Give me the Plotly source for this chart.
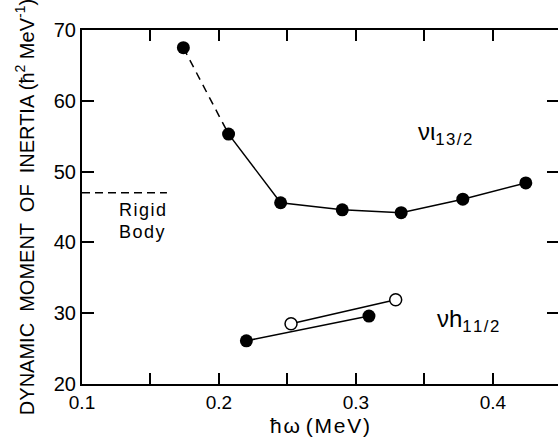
import plotly.graph_objects as go

# nu i13/2 band
i_x = [0.174, 0.207, 0.245, 0.290, 0.333, 0.378, 0.424]
i_y = [67.5, 55.3, 45.6, 44.6, 44.2, 46.1, 48.4]

# nu h11/2 band
h_fill_x = [0.220, 0.3095]
h_fill_y = [26.1, 29.6]
h_open_x = [0.2526, 0.329]
h_open_y = [28.5, 31.9]

# rigid body value
rigid_x = [0.1, 0.162]
rigid_y = [47.0, 47.0]

x_tickvals = [0.1, 0.15, 0.2, 0.25, 0.3, 0.35, 0.4]
x_ticktext = ["0.1", "", "0.2", "", "0.3", "", "0.4"]
y_tickvals = [20, 30, 40, 50, 60, 70]

FONT = "Liberation Sans, Arial, sans-serif"
K = "black"
H = "\u200a"  # hair space for letter spacing

fig = go.Figure()

fig.add_trace(go.Scatter(x=i_x[:2], y=i_y[:2], mode="lines",
                         line=dict(color=K, width=1.5, dash="8px,6px"),
                         showlegend=False))
fig.add_trace(go.Scatter(x=i_x[1:], y=i_y[1:], mode="lines",
                         line=dict(color=K, width=1.5), showlegend=False))
fig.add_trace(go.Scatter(x=i_x, y=i_y, mode="markers",
                         marker=dict(color=K, size=13), showlegend=False))

fig.add_trace(go.Scatter(x=h_fill_x, y=h_fill_y, mode="lines+markers",
                         line=dict(color=K, width=1.5),
                         marker=dict(color=K, size=13), showlegend=False))
fig.add_trace(go.Scatter(x=h_open_x, y=h_open_y, mode="lines+markers",
                         line=dict(color=K, width=1.5),
                         marker=dict(color="white", size=12,
                                     line=dict(color=K, width=1.5)),
                         showlegend=False))

fig.add_trace(go.Scatter(x=rigid_x, y=rigid_y, mode="lines",
                         line=dict(color=K, width=1.5, dash="8px,5px"),
                         showlegend=False, cliponaxis=False))

fig.add_annotation(x=0.144, y=44.6, text=H.join("Rigid"), showarrow=False,
                   font=dict(family=FONT, size=18, color=K))
fig.add_annotation(x=0.144, y=41.4, text=H.join("Body"), showarrow=False,
                   font=dict(family=FONT, size=18, color=K))
fig.add_annotation(x=0.365, y=55.4, text="νι<sub>" + H.join("13/2") + "</sub>",
                   showarrow=False, font=dict(family=FONT, size=24, color=K))
fig.add_annotation(x=0.382, y=29.0, text="νh<sub>" + H.join("11/2") + "</sub>",
                   showarrow=False, font=dict(family=FONT, size=24, color=K))

xtitle = H.join("ħω") + " " + H.join("(MeV)")

fig.update_layout(
    width=558, height=440,
    margin=dict(l=82, r=0, t=30, b=56),
    paper_bgcolor="white", plot_bgcolor="white",
    font=dict(family=FONT, size=18, color=K),
    xaxis=dict(range=[0.1, 0.4475], tickvals=x_tickvals, ticktext=x_ticktext,
               ticks="inside", ticklen=11, tickwidth=1.5, tickcolor=K,
               tickfont=dict(size=19),
               showline=True, linewidth=2, linecolor=K, mirror="ticks",
               showgrid=False, zeroline=False, automargin=False,
               title=dict(text=xtitle, font=dict(size=21), standoff=7)),
    yaxis=dict(range=[20, 70], tickvals=y_tickvals,
               ticks="inside", ticklen=12, tickwidth=1.5, tickcolor=K,
               tickfont=dict(size=20),
               showline=True, linewidth=2, linecolor=K,
               showgrid=False, zeroline=False, automargin=False,
               title=dict(text="DYNAMIC  MOMENT  OF  INERTIA (ħ<sup>2</sup> MeV<sup>-1</sup>)",
                          font=dict(size=20), standoff=14)),
    yaxis2=dict(range=[20, 70], tickvals=y_tickvals, overlaying="y", side="right",
                ticks="inside", ticklen=11, tickwidth=1.5, tickcolor=K,
                showticklabels=False, showline=False, showgrid=False,
                zeroline=False, automargin=False),
)
fig.add_trace(go.Scatter(x=[0.3], y=[30], yaxis="y2", mode="markers",
                         marker=dict(opacity=0), showlegend=False, hoverinfo="skip"))

fig.write_html("out.html", config={"displayModeBar": False},
               post_script="document.body.style.margin='0';")
